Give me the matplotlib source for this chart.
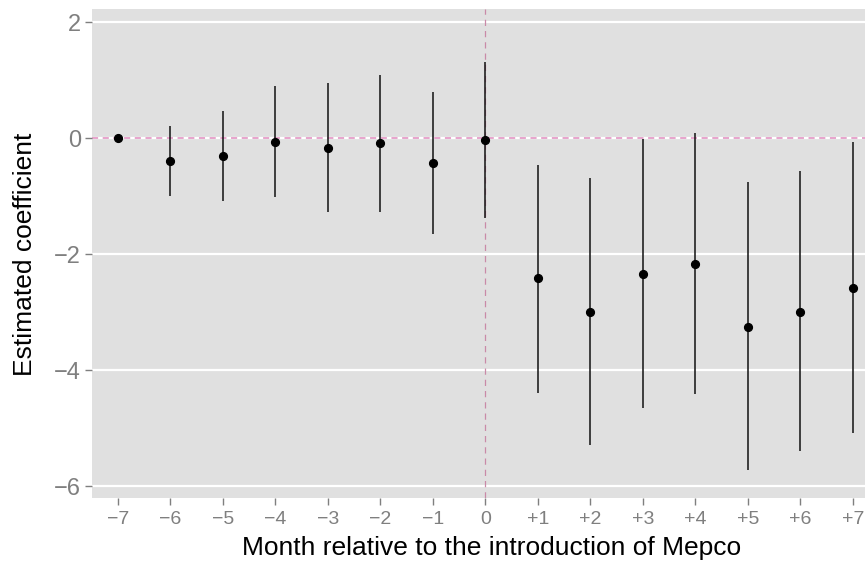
"""Event-study coefficients around the introduction of Mepco."""

import matplotlib.pyplot as plt

plt.rcParams["font.family"] = ["Liberation Sans", "DejaVu Sans"]

# Months relative to the introduction, estimated coefficient and 95% CI
months = [-7, -6, -5, -4, -3, -2, -1, 0, 1, 2, 3, 4, 5, 6, 7]
month_labels = ["\u22127", "\u22126", "\u22125", "\u22124", "\u22123", "\u22122",
                "\u22121", "0", "+1", "+2", "+3", "+4", "+5", "+6", "+7"]
coef = [0.0, -0.40, -0.30, -0.06, -0.17, -0.09, -0.43, -0.03,
        -2.42, -2.99, -2.34, -2.17, -3.25, -2.99, -2.58]
ci_low = [0.0, -1.00, -1.09, -1.02, -1.28, -1.27, -1.65, -1.38,
          -4.39, -5.29, -4.65, -4.42, -5.72, -5.40, -5.09]
ci_high = [0.0, 0.20, 0.47, 0.89, 0.95, 1.08, 0.80, 1.32,
           -0.46, -0.68, -0.02, 0.09, -0.75, -0.56, -0.06]
y_ticks = [2, 0, -2, -4, -6]
y_tick_labels = ["2", "0", "\u22122", "\u22124", "\u22126"]

fig = plt.figure(figsize=(8.65, 5.65), dpi=100)
ax = fig.add_axes([0.1064, 0.118, 0.8936, 0.8655])
ax.set_facecolor("#E0E0E0")
for side in ax.spines.values():
    side.set_visible(False)

# white horizontal grid only
for yv in y_ticks:
    ax.axhline(yv, color="white", linewidth=1.6, zorder=0.5)

ax.axhline(0, color="#E08CBE", linewidth=1.1, linestyle=(0, (4, 3)), zorder=1)
ax.axvline(0, color="#C98AA8", linewidth=0.9, linestyle=(0, (5, 4)), zorder=1)

ax.vlines(months, ci_low, ci_high, color="#111111", linewidth=1.1, zorder=2)
ax.plot(months, coef, "o", color="black", markersize=5.6, zorder=3)

ax.set_xlim(-7.49, 7.23)
ax.set_ylim(-6.21, 2.22)
ax.set_xticks(months)
ax.set_xticklabels(month_labels)
ax.set_yticks(y_ticks)
ax.set_yticklabels(y_tick_labels)
ax.tick_params(axis="both", colors="#7F7F7F", length=5, width=1.0, direction="out")
ax.tick_params(axis="x", labelsize=14, pad=4)
ax.tick_params(axis="y", labelsize=17, pad=3)

ax.set_xlabel("Month relative to the introduction of Mepco", fontsize=19)
ax.xaxis.set_label_coords(0.517, -0.078)
ax.set_ylabel("Estimated coefficient", fontsize=19, labelpad=12)

fig.savefig("out.png", dpi=100)
